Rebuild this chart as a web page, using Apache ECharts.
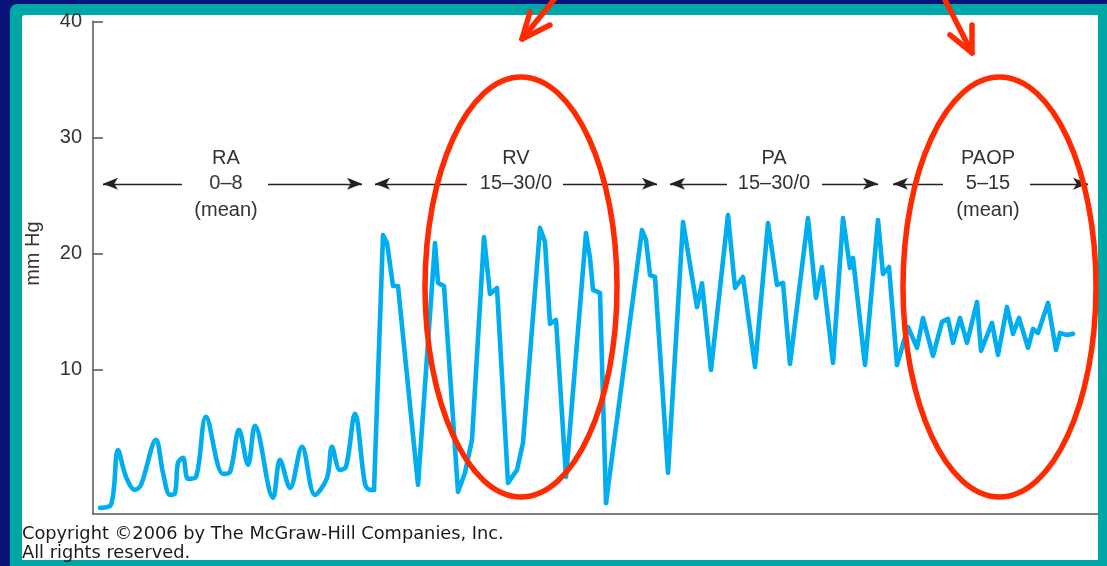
<!DOCTYPE html>
<html><head><meta charset="utf-8">
<script src="https://cdn.jsdelivr.net/npm/echarts@6/dist/echarts.min.js"></script>
<style>
html,body{margin:0;padding:0;background:#0a137a;width:1107px;height:566px;overflow:hidden;}
#frame{position:absolute;left:10px;top:4px;width:1097px;height:562px;background:#00a7a7;border-top-left-radius:7px;}
#paper{position:absolute;left:22px;top:15px;width:1076px;height:545px;background:#fff;border-top-left-radius:3px;}
#chart{position:absolute;left:0;top:0;width:1107px;height:566px;}
</style></head><body>
<div id="frame"></div><div id="paper"></div><div id="chart"></div>
<script>
// ---- data: [time (arbitrary units), pressure (mm Hg)] ----
const raTrace = [[7,-1.92],[18,-1.66],[25,3.07],[33,0.75],[42,-0.37],[48,0.06],[63,3.94],[70,1.10],[77,-0.80],[82,-0.63],[85,1.96],[90,2.39],[95,0.58],[103,0.75],[113,5.92],[130,1.01],[137,1.18],[146,4.80],[155,1.79],[162,5.14],[180,-1.06],[187,2.21],[197,-0.20],[209,3.33],[222,-0.80],[234,0.66],[239,3.33],[247,1.35],[253,1.61],[262,6.18],[272,0.15],[277,-0.37],[281,-0.37]];
const rvTrace = [[281,-0.37],[290,21.58],[294,20.90],[300,17.20],[305,17.20],[325,0.06],[342,20.90],[345,17.46],[351,17.20],[365,-0.54],[372,1.10],[379,3.94],[391,21.42],[397,16.51],[404,17.03],[415,0.23],[424,1.35],[430,3.68],[447,22.20],[452,20.99],[457,13.93],[463,14.27],[473,0.75],[493,21.76],[497,19.60],[500,16.86],[507,16.60],[513,-1.49]];
const paTrace = [[513,-1.49],[549,22.01],[553,21.16],[557,18.14],[562,17.97],[575,1.10],[590,22.70],[604,15.38],[609,17.43],[618,9.96],[635,23.31],[642,17.03],[650,17.97],[662,10.22],[675,22.62],[684,17.29],[690,17.46],[697,10.48],[715,23.05],[723,16.17],[729,18.83],[740,10.57],[750,23.05],[757,18.75],[760,19.61],[772,10.39],[785,22.88],[790,18.23],[796,18.83],[804,10.39]];
const paopTrace = [[804,10.39],[815,13.67],[824,11.86],[830,14.44],[840,11.17],[849,14.10],[855,14.36],[860,12.29],[867,14.44],[874,12.29],[884,15.82],[888,11.60],[899,14.01],[905,11.26],[914,15.39],[920,13.07],[926,14.44],[935,11.86],[940,13.50],[945,13.15],[955,15.74],[963,11.69],[967,13.15],[973,12.98],[980,13.07]];

const yTicks = [10, 20, 30, 40];
const yMin = -2.45, yMax = 40, xMin = 0, xMax = 1005;

// section annotations
const sectionNames  = ['RA', 'RV', 'PA', 'PAOP'];
const sectionRanges = ['0\u20138', '15\u201330/0', '15\u201330/0', '5\u201315'];
const sectionMean   = [true, false, false, true];
const sectionCenter = [133, 423, 681, 895];
const arrowLeft     = [[10, 89], [282, 374], [577, 634], [800, 850]];
const arrowRight    = [[175, 269], [470, 564], [729, 785], [937, 995]];
const nameLevel = 28.17, rangeLevel = 26.0, meanLevel = 23.66;

// red highlight ellipses: [centre time, centre mmHg, half-width (time), half-height (mmHg)]
const highlightEllipses = [[428, 17.11, 96, 18.09], [906.5, 17.11, 96.5, 18.09]];
// red pointer arrows: [shaft end, tip, wing A, wing B]
const pointerArrows = [
  [[470.5, 42.87], [429, 38.48], [437, 40.80], [457, 39.68]],
  [[846, 42.87], [879, 37.27], [879, 39.68], [857, 38.82]]
];

const copyrightLines = ['Copyright \u00a92006 by The McGraw-Hill Companies, Inc.', 'All rights reserved.'];

const WAVE = '#00adef', RED = '#ff2a00', INK = '#333333';
const FONT = '"Liberation Sans", Arial, Helvetica, sans-serif';

const chart = echarts.init(document.getElementById('chart'), null, {renderer: 'canvas'});

function waveSeries(name, data, smooth) {
  return {
    name, type: 'line', data, smooth, showSymbol: false, silent: true, clip: false,
    lineStyle: {color: WAVE, width: 4.6, join: 'round', cap: 'round'},
    z: 3
  };
}

const markData = [];
for (let i = 0; i < sectionNames.length; i++) {
  markData.push([{coord: [arrowLeft[i][0], rangeLevel], symbol: 'arrow'}, {coord: [arrowLeft[i][1], rangeLevel], symbol: 'none'}]);
  markData.push([{coord: [arrowRight[i][0], rangeLevel], symbol: 'none'}, {coord: [arrowRight[i][1], rangeLevel], symbol: 'arrow'}]);
}

const paopSeries = waveSeries('PAOP', paopTrace, false);
paopSeries.markLine = {
  silent: true, animation: false, symbolSize: [9, 15],
  lineStyle: {color: '#222', width: 1.3, type: 'solid'},
  label: {show: false}, emphasis: {disabled: true},
  data: markData
};

chart.setOption({
  animation: false,
  grid: {left: 93, right: 9, top: 21.3, bottom: 52},
  xAxis: {
    type: 'value', min: xMin, max: xMax,
    axisLine: {show: true, onZero: false, lineStyle: {color: '#555', width: 1.5}},
    axisTick: {show: false}, axisLabel: {show: false}, splitLine: {show: false}
  },
  yAxis: {
    type: 'value', min: yMin, max: yMax,
    name: 'mm Hg', nameLocation: 'middle', nameGap: 50,
    nameTextStyle: {fontSize: 20, color: INK, fontFamily: FONT, padding: [0, 0, 0, 28]},
    axisLine: {show: true, onZero: false, lineStyle: {color: '#555', width: 1.5}},
    axisTick: {show: true, inside: true, length: 10, customValues: yTicks, lineStyle: {color: '#555', width: 1.5}},
    axisLabel: {show: true, customValues: yTicks, margin: 11, fontSize: 20, color: INK, fontFamily: FONT},
    splitLine: {show: false}
  },
  series: [
    waveSeries('RA', raTrace, 0.35),
    waveSeries('RV', rvTrace, false),
    waveSeries('PA', paTrace, false),
    paopSeries
  ]
});

const px = (p) => chart.convertToPixel({gridIndex: 0}, p);
const graphics = [];
for (let i = 0; i < sectionNames.length; i++) {
  const rows = [[sectionNames[i], nameLevel], [sectionRanges[i], rangeLevel]];
  if (sectionMean[i]) rows.push(['(mean)', meanLevel]);
  rows.forEach(([t, lvl]) => {
    const p = px([sectionCenter[i], lvl]);
    graphics.push({type: 'text', silent: true, z: 50, style: {
      text: t, x: p[0], y: p[1], font: '20px ' + FONT, fill: INK,
      align: 'center', verticalAlign: 'middle', textAlign: 'center', textVerticalAlign: 'middle'}});
  });
}
highlightEllipses.forEach(([cx, cy, rx, ry]) => {
  const c = px([cx, cy]), e = px([cx + rx, cy + ry]);
  graphics.push({type: 'ellipse', silent: true, z: 60,
    shape: {cx: c[0], cy: c[1], rx: Math.abs(e[0] - c[0]), ry: Math.abs(e[1] - c[1])},
    style: {fill: null, stroke: RED, lineWidth: 5.5}});
});
pointerArrows.forEach(([end, tip, wa, wb]) => {
  const E = px(end), T = px(tip), A = px(wa), B = px(wb);
  graphics.push({type: 'polyline', silent: true, z: 60, shape: {points: [E, T]},
    style: {fill: null, stroke: RED, lineWidth: 5.5, lineCap: 'round', lineJoin: 'round'}});
  graphics.push({type: 'polyline', silent: true, z: 60, shape: {points: [A, T, B]},
    style: {fill: null, stroke: RED, lineWidth: 5.5, lineCap: 'round', lineJoin: 'round'}});
});
copyrightLines.forEach((t, i) => {
  graphics.push({type: 'text', silent: true, z: 50, style: {
    text: t, x: 22, y: 534 + i * 19, font: '17.8px "DejaVu Sans", Verdana, sans-serif', fill: '#1a1a1a',
    align: 'left', verticalAlign: 'middle', textAlign: 'left', textVerticalAlign: 'middle'}});
});
chart.setOption({graphic: {elements: graphics}});
</script></body></html>
